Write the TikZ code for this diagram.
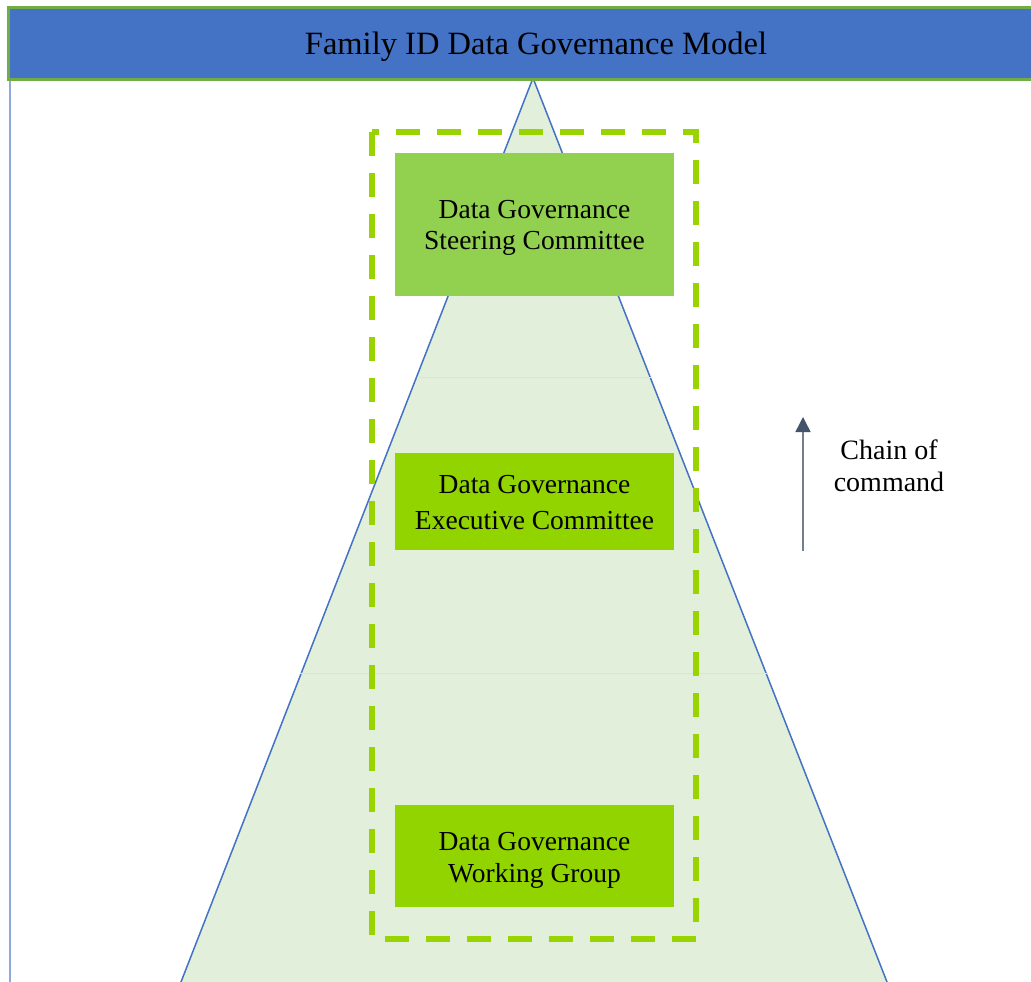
\documentclass[tikz,border=0pt]{standalone}
\usepackage{fontspec}
\setmainfont{Liberation Serif}
\usetikzlibrary{arrows.meta,calc}
\definecolor{barblue}{HTML}{4472C4}
\definecolor{bargreen}{HTML}{70AD47}
\definecolor{trifill}{HTML}{E2EFDA}
\definecolor{triline}{HTML}{4472C4}
\definecolor{faint}{HTML}{D6E2EE}
\definecolor{leftline}{HTML}{8EAADB}
\definecolor{boxA}{HTML}{92D050}
\definecolor{boxB}{HTML}{92D400}
\definecolor{dashgreen}{HTML}{99D400}
\definecolor{arrowc}{HTML}{44546A}
\tikzset{
  govbox/.style={fill=#1, draw=none, minimum width=279pt, align=center, font=\fontsize{27.5}{31}\selectfont, inner sep=0pt},
  govtext/.style={align=center, font=\fontsize{27.5}{#1}\selectfont, inner sep=0pt},
  dashframe/.style={draw=dashgreen, line width=6pt, dash pattern=on 24pt off 17pt},
}
\begin{document}
\begin{tikzpicture}[x=1pt,y=-1pt]
\useasboundingbox (0,0) rectangle (1031,982);
\clip (0,0) rectangle (1031,982);
\fill[white] (0,0) rectangle (1031,982);
% left thin line
\draw[leftline, line width=2pt] (9.5,78) -- (9.5,990);
% triangle
\coordinate (apex) at (533,78);
\coordinate (bl) at (181,982);
\coordinate (br) at (887,982);
\filldraw[fill=trifill, draw=triline, line width=1.5pt] (apex) -- ($(apex)!1.02!(bl)$) -- ($(apex)!1.02!(br)$) -- cycle;
% faint lines
\draw[faint, line width=1pt] (417,377) -- (651,377);
\draw[faint, line width=1pt] (300,673) -- (768,673);
% title bar
\node[fill=barblue, draw=bargreen, line width=3pt, minimum width=1040pt, minimum height=72pt, anchor=north west, inner sep=0pt] (title) at (6.5,6.5) {};
\node[font=\fontsize{32.5}{36}\selectfont] (titletext) at (536,47) {Family ID Data Governance Model};
% dashed frame
\draw[dashframe] (372,132) rectangle (696,939);
% boxes
\node[govbox=boxA, minimum height=143pt] (steer) at (534.5,224.5) {};
\node[govtext=31] (steertext) at (534.5,228) {Data Governance\\Steering Committee};
\node[govbox=boxB, minimum height=97pt] (exec) at (534.5,501.5) {};
\node[govtext=36] (exectext) at (534.5,503) {Data Governance\\Executive Committee};
\node[govbox=boxB, minimum height=102pt] (work) at (534.5,856) {};
\node[govtext=32] (worktext) at (534.5,860) {Data Governance\\Working Group};
% arrow
\coordinate (as) at (803,551);
\coordinate (ae) at (803,417);
\draw[arrowc!75, line width=1.5pt, -{Triangle[length=15pt,width=15pt,color=arrowc]}] (as) -- (ae);
\node[align=center, font=\fontsize{28}{32}\selectfont] (chain) at (889,466) {Chain of\\command};
\end{tikzpicture}
\end{document}
